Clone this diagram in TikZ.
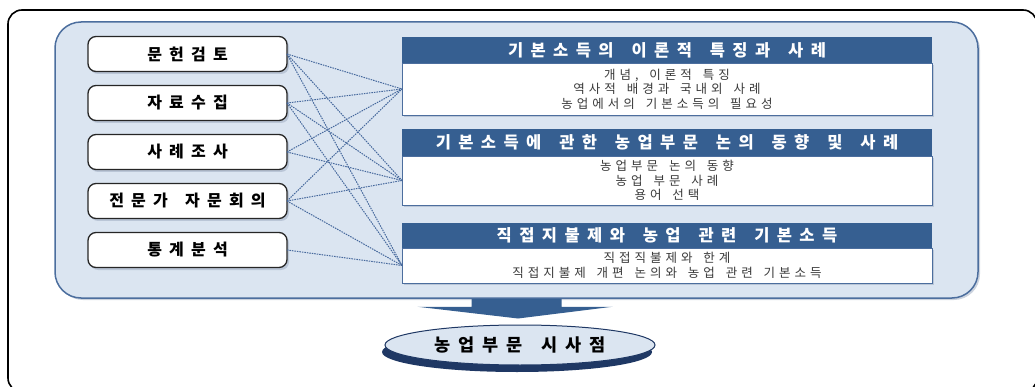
\documentclass[tikz,border=0pt]{standalone}
\usepackage{fontspec}
\setmainfont{Noto Sans CJK KR}
\newfontfamily\krhead[LetterSpace=45,WordSpace=1.6]{Noto Sans CJK KR}
\newfontfamily\krbody[LetterSpace=32,WordSpace=1.6]{Noto Sans CJK KR}
\usetikzlibrary{calc,positioning,shadows,shapes.geometric}
\definecolor{HeadBlue}{HTML}{365F91}
\definecolor{PanelFill}{HTML}{DBE5F1}
\definecolor{PanelLine}{HTML}{4C6E9E}
\definecolor{LinkBlue}{HTML}{45689C}
\definecolor{NavyShadow}{HTML}{1F3864}
\definecolor{SoftShadow}{HTML}{9AA8BE}
\definecolor{BodyInk}{HTML}{3A3A3A}

\begin{document}
\begin{tikzpicture}[x=1pt,y=-1pt,node distance=14pt,
    panel/.style={draw=PanelLine,line width=1.5pt,fill=PanelFill,rounded corners=26pt,
                  drop shadow={shadow xshift=2pt,shadow yshift=-2pt,fill=SoftShadow}},
    src/.style={draw=black!85,line width=1.3pt,fill=white,rounded corners=8pt,outer sep=0pt,
                minimum width=199pt,minimum height=35pt,
                font=\krhead\bfseries\fontsize{16}{18}\selectfont,
                drop shadow={shadow xshift=2pt,shadow yshift=-2.5pt,fill=SoftShadow}},
    hd/.style={fill=HeadBlue,text=white,minimum width=530pt,inner sep=0pt,outer sep=0pt,
               font=\krhead\bfseries\fontsize{16.5}{18}\selectfont},
    bd/.style={draw=PanelLine,fill=white,minimum width=530pt,inner sep=0pt,outer sep=0pt,
               align=center,text=BodyInk,font=\krbody\fontsize{12.5}{14.5}\selectfont,
               drop shadow={shadow xshift=2pt,shadow yshift=-2pt,fill=SoftShadow}},
    concl/.style={ellipse,draw=NavyShadow,line width=1pt,fill=PanelFill,
                  minimum width=270pt,minimum height=40pt,
                  font=\krhead\bfseries\fontsize{17.5}{19}\selectfont,
                  drop shadow={shadow xshift=-3pt,shadow yshift=-7pt,fill=NavyShadow,opacity=1}},
    link/.style={LinkBlue,line width=1pt,dash pattern=on 1.5pt off 1pt}]
  \useasboundingbox (0,0) rectangle (1035,387);
  \draw[line width=1.6pt,rounded corners=14pt] (8,10) rectangle (1037,392);
  \node[panel,minimum width=923pt,minimum height=276pt] (panel) at (516.5,160) {};

  \node[src] (litrev) at (187.5,54) {문헌검토};
  \node[src,below=of litrev] (datcol) {자료수집};
  \node[src,below=of datcol] (casest) {사례조사};
  \node[src,below=of casest] (expert) {전문가 자문회의};
  \node[src,below=of expert] (stats) {통계분석};

  \node[hd,minimum height=26pt] (hdA) at (667,50) {기본소득의 이론적 특징과 사례};
  \node[bd,minimum height=52pt,below=0pt of hdA] (bdA)
    {개념, 이론적 특징\\역사적 배경과 국내외 사례\\농업에서의 기본소득의 필요성};
  \node[hd,minimum height=27pt,below=14pt of bdA] (hdB) {기본소득에 관한 농업부문 논의 동향 및 사례};
  \node[bd,minimum height=49pt,below=0pt of hdB] (bdB)
    {농업부문 논의 동향\\농업 부문 사례\\용어 선택};
  \node[hd,minimum height=25pt,below=18pt of bdB] (hdC) {직접지불제와 농업 관련 기본소득};
  \node[bd,minimum height=35pt,below=0pt of hdC] (bdC)
    {직접직불제와 한계\\직접지불제 개편 논의와 농업 관련 기본소득};

  \foreach \s/\t in {litrev/bdA,litrev/bdB,litrev/bdC,datcol/bdA,datcol/bdB,datcol/bdC,
                     casest/bdA,casest/bdB,expert/bdA,expert/bdB,expert/bdC,stats/bdC}
    \draw[link] (\s.east) -- (\t.west);

  \node[concl] (concl) at (520,345) {농업부문 시사점};
  \fill[HeadBlue] ($(panel.south)+(-45,0)$) -- ($(panel.south)+(45,0)$)
    -- ($(panel.south)+(45,8)$) -- ($(panel.south)+(96,8)$)
    -- ($(concl.north)+(-2,-6)$) -- ($(panel.south)+(-99,8)$)
    -- ($(panel.south)+(-45,8)$) -- cycle;
\end{tikzpicture}
\end{document}
